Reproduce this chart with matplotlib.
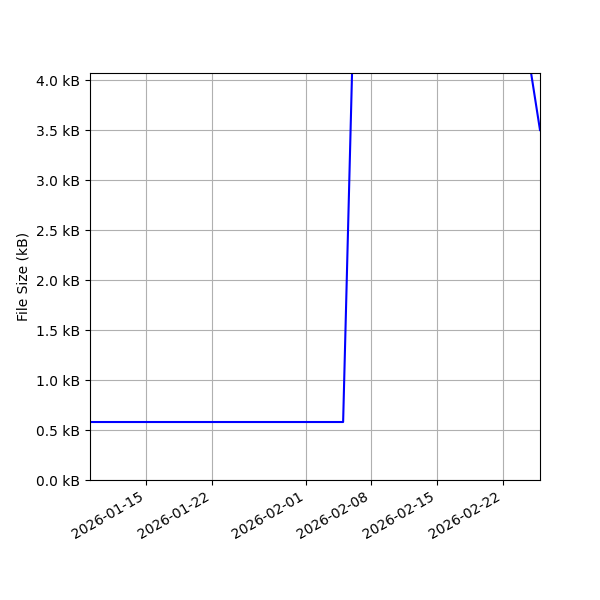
import matplotlib
matplotlib.use("Agg")
import matplotlib.pyplot as plt
import matplotlib.ticker as mticker
import pandas as pd

# daily file size history (kB)
dates = pd.date_range("2026-01-09", "2026-02-26", freq="D")
flat_part = [0.58] * 28  # 2026-01-09 .. 2026-02-05
growth_part = [4.25, 4.6, 5.1, 5.3, 5.8, 6.2, 6.4, 6.9, 7.3, 7.5,
               7.8, 8.1, 8.4, 8.0, 7.2, 6.5, 5.9, 5.1, 4.6]  # 02-06 .. 02-24
tail_part = [4.1, 3.5]  # 02-25, 02-26
sizes_kb = flat_part + growth_part + tail_part

fig, ax = plt.subplots(figsize=(6, 6), dpi=100)
ax.plot(dates, sizes_kb, color="blue")

ax.set_xlim(dates[0], dates[-1])
ax.set_ylim(0, 4.075)
ax.yaxis.set_major_locator(mticker.MultipleLocator(0.5))
ax.yaxis.set_major_formatter(mticker.FuncFormatter(lambda v, p: f"{v:.1f} kB"))
ax.set_ylabel("File Size (kB)")
ax.grid(True)

fig.autofmt_xdate()
fig.subplots_adjust(left=0.15, right=0.9, top=0.879, bottom=0.2)
fig.savefig("out.png")
